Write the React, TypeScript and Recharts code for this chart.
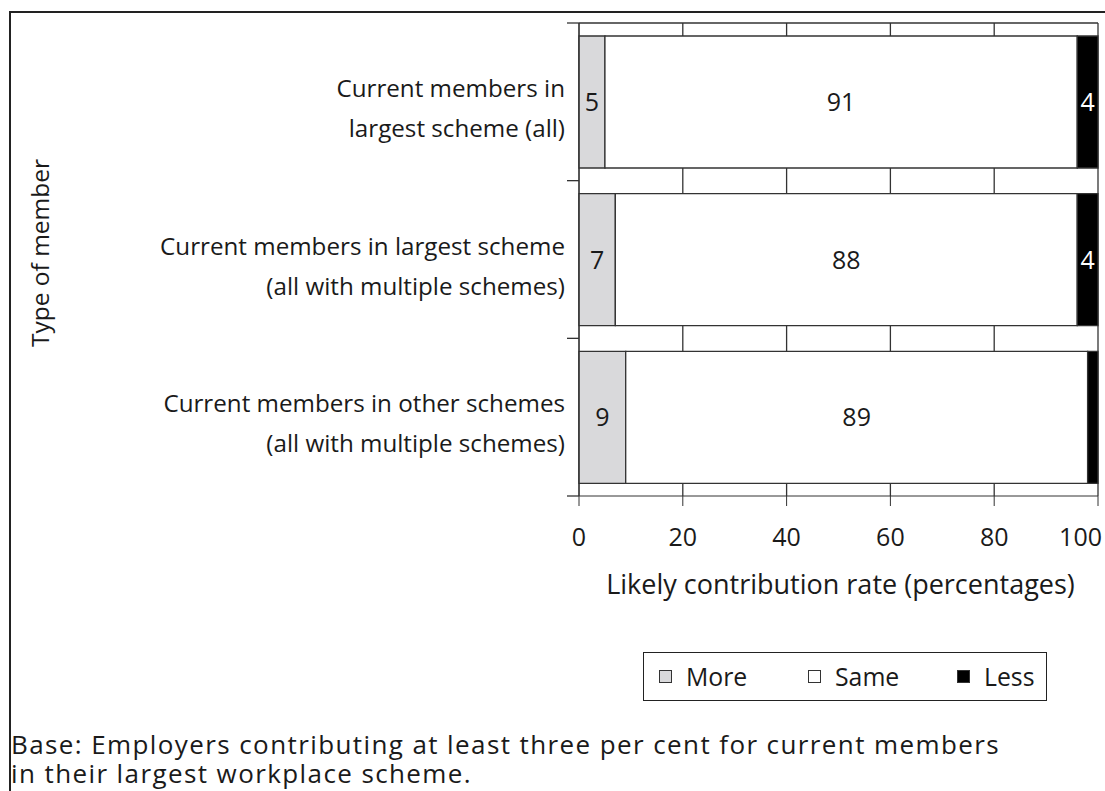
import React from 'react';
import { BarChart, Bar, XAxis, YAxis, CartesianGrid, LabelList, Legend } from 'recharts';

const categories = [
  'Current members in\nlargest scheme (all)',
  'Current members in largest scheme\n(all with multiple schemes)',
  'Current members in other schemes\n(all with multiple schemes)',
];
const moreValues = [5, 7, 9];
const sameValues = [91, 89, 89];
const lessValues = [4, 4, 2];
const moreLabels = ['5', '7', '9'];
const sameLabels = ['91', '88', '89'];
const lessLabels = ['4', '4', ''];
const xTicks = [0, 20, 40, 60, 80, 100];
const seriesNames = ['More', 'Same', 'Less'];
const seriesColors = ['#d9d9db', '#ffffff', '#000000'];
const xTitle = 'Likely contribution rate (percentages)';
const yTitle = 'Type of member';
const baseLines = [
  'Base: Employers contributing at least three per cent for current members',
  'in their largest workplace scheme.',
];

const data = categories.map((name, i) => ({
  name,
  more: moreValues[i],
  same: sameValues[i],
  less: lessValues[i],
  moreLabel: moreLabels[i],
  sameLabel: sameLabels[i],
  lessLabel: lessLabels[i],
}));

const FONT = '"Open Sans", sans-serif';
const TEXT = '#1a1a1a';
const LINE = '#333333';
const W = 1105;
const H = 791;
const M = { top: 23, right: 7, bottom: 265, left: 0 };
const Y_AXIS_W = 579;
const X_AXIS_H = 30;
const PLOT_H = H - M.top - M.bottom - X_AXIS_H;
const TICK_MARGIN = 14;
const OUT_TICK = 12;
const FS_CAT = 24.2;
const FS_NUM = 25;
const FS_XT = 27;
const FS_YT = 24.5;
const FS_LEG = 24.8;
const FS_BASE = 26;

const CategoryTick = (props: any) => {
  const { x, y, payload, index } = props;
  const band = PLOT_H / categories.length;
  const axisX = x + TICK_MARGIN;
  const lines = String(payload.value).split('\n');
  return (
    <g>
      <line x1={axisX - OUT_TICK} x2={axisX} y1={y - band / 2} y2={y - band / 2} stroke={LINE} strokeWidth={1.3} />
      {index === categories.length - 1 && (
        <line x1={axisX - OUT_TICK} x2={axisX} y1={y + band / 2} y2={y + band / 2} stroke={LINE} strokeWidth={1.3} />
      )}
      <text textAnchor="end" fontSize={FS_CAT} fill={TEXT} fontFamily={FONT}>
        {lines.map((l, i) => (
          <tspan key={i} x={x} y={y - 5 + i * 40}>{l}</tspan>
        ))}
      </text>
    </g>
  );
};

const NumberTick = (props: any) => {
  const { x, y, payload, index } = props;
  const last = index === xTicks.length - 1;
  return (
    <text
      x={last ? x + 4 : x}
      y={y}
      dy="0.71em"
      textAnchor={last ? 'end' : 'middle'}
      fontSize={FS_NUM}
      fill={TEXT}
      fontFamily={FONT}
    >
      {payload.value}
    </text>
  );
};

const LegendBox = (props: any) => {
  const items = ([...(props.payload || [])] as any[]).sort(
    (a, b) => seriesNames.indexOf(a.value) - seriesNames.indexOf(b.value)
  );
  return (
    <div
      style={{
        boxSizing: 'border-box',
        width: 404,
        height: 49,
        border: '1.5px solid #222',
        display: 'flex',
        alignItems: 'center',
        paddingLeft: 15,
        fontFamily: FONT,
        fontSize: FS_LEG,
        color: TEXT,
        background: '#fff',
      }}
    >
      {items.map((it, i) => (
        <div key={it.value} style={{ display: 'flex', alignItems: 'center', width: i < items.length - 1 ? 149 : undefined }}>
          <span
            style={{
              display: 'inline-block',
              boxSizing: 'border-box',
              width: 13,
              height: 13,
              border: '1px solid #333',
              background: seriesColors[seriesNames.indexOf(it.value)],
              marginRight: 14,
            }}
          />
          <span style={{ lineHeight: 1 }}>{it.value}</span>
        </div>
      ))}
    </div>
  );
};

export default function App() {
  return (
    <div style={{ position: 'absolute', left: 0, top: 0, width: W, height: H, background: '#fff' }}>
      <svg width={W} height={H} style={{ position: 'absolute', left: 0, top: 0 }}>
        <rect x={10} y={12} width={W + 50} height={H + 50} fill="none" stroke="#222" strokeWidth={2} />
        <text
          x={39}
          y={253}
          transform="rotate(-90, 39, 253)"
          textAnchor="middle"
          dominantBaseline="central"
          fontSize={FS_YT}
          fill={TEXT}
          fontFamily={FONT}
        >
          {yTitle}
        </text>
        <text fontSize={FS_BASE} letterSpacing={1.4} fill={TEXT} fontFamily={FONT}>
          {baseLines.map((l, i) => (
            <tspan key={i} x={11} y={754 + i * 29}>
              {l}
            </tspan>
          ))}
        </text>
      </svg>
      <div style={{ position: 'absolute', left: 0, top: 0 }}>
        <BarChart layout="vertical" width={W} height={H} data={data} margin={M} barCategoryGap={13}>
          <CartesianGrid
            stroke={LINE}
            strokeWidth={1.3}
            horizontalCoordinatesGenerator={(p: any) => [p.offset.top]}
          />
          <XAxis
            type="number"
            domain={[0, 100]}
            ticks={xTicks}
            height={X_AXIS_H}
            tickSize={10}
            tickMargin={22}
            stroke={LINE}
            tick={<NumberTick />}
            interval={0}
            label={{ value: xTitle, position: 'bottom', offset: 49, dx: 2, fill: TEXT, fontSize: FS_XT, fontFamily: FONT }}
          />
          <YAxis
            type="category"
            dataKey="name"
            width={Y_AXIS_W}
            tickSize={0}
            tickMargin={TICK_MARGIN}
            tickLine={false}
            stroke={LINE}
            interval={0}
            tick={<CategoryTick />}
          />
          <Legend
            layout="horizontal"
            verticalAlign="middle"
            align="center"
            content={(p: any) => <LegendBox payload={p.payload} />}
            wrapperStyle={{ position: 'absolute', left: 643, top: 652, width: 404, height: 49 }}
          />
          <Bar dataKey="more" name="More" stackId="s" fill={seriesColors[0]} stroke={LINE} strokeWidth={1.3} isAnimationActive={false}>
            <LabelList dataKey="moreLabel" position="center" fill={TEXT} fontSize={FS_NUM} fontFamily={FONT} />
          </Bar>
          <Bar dataKey="same" name="Same" stackId="s" fill={seriesColors[1]} stroke={LINE} strokeWidth={1.3} isAnimationActive={false}>
            <LabelList dataKey="sameLabel" position="center" fill={TEXT} fontSize={FS_NUM} fontFamily={FONT} />
          </Bar>
          <Bar dataKey="less" name="Less" stackId="s" fill={seriesColors[2]} stroke={LINE} strokeWidth={1.3} isAnimationActive={false}>
            <LabelList dataKey="lessLabel" position="center" fill="#ffffff" fontSize={FS_NUM} fontFamily={FONT} />
          </Bar>
        </BarChart>
      </div>
    </div>
  );
}
